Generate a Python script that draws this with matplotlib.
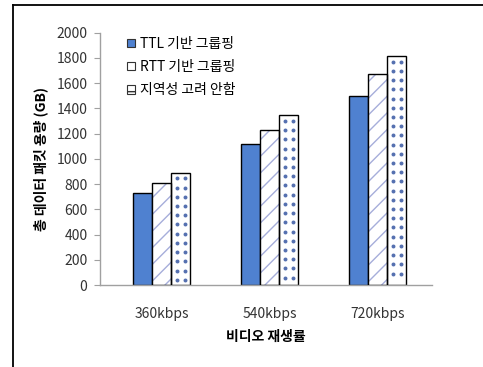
import numpy as np
import matplotlib
matplotlib.use('Agg')
import matplotlib.pyplot as plt
from matplotlib.patches import Patch
from matplotlib.lines import Line2D

plt.rcParams['font.family'] = ['Noto Sans CJK KR', 'DejaVu Sans']

categories = ['360kbps', '540kbps', '720kbps']
series_names = ['TTL 기반 그룹핑', 'RTT 기반 그룹핑', '지역성 고려 안함']
ttl_values = [730, 1120, 1500]
rtt_values = [810, 1230, 1670]
no_locality_values = [890, 1345, 1815]

BLUE = '#4F81D0'
HATCH_LINE = '#A6AEDA'
DOT = '#5570B0'
AXIS_GRAY = '#A0A0A0'

fig = plt.figure(figsize=(4.83, 3.67), dpi=100)
ax = fig.add_axes([0.207, 0.2234, 0.687, 0.6876])

x = np.arange(len(categories))
w = 0.176

# solid bars
ax.bar(x - w, ttl_values, w, color=BLUE, edgecolor='black', linewidth=1.0, zorder=2)

# diagonal hatch: pattern layer first, outline on top
with plt.rc_context({'hatch.linewidth': 1.0}):
    ax.bar(x, rtt_values, w, color='white', edgecolor=HATCH_LINE, hatch='//', linewidth=0, zorder=2)
ax.bar(x, rtt_values, w, fill=False, edgecolor='black', linewidth=1.0, zorder=3)

# dotted bars: white fill with a two-column grid of dots inside each bar
dot_bars = ax.bar(x + w, no_locality_values, w, color='white', edgecolor='black',
                  linewidth=1.0, zorder=2)
for bar in dot_bars:
    left, width, top = bar.get_x(), bar.get_width(), bar.get_height()
    rows = np.arange(top - 45, 20, -73)
    for frac in (0.28, 0.72):
        ax.scatter(np.full(len(rows), left + frac * width), rows, s=8, color=DOT,
                   linewidths=0, zorder=3)

ax.set_xlim(-0.574, 2.5)
ax.set_ylim(0, 2000)
ax.set_yticks(np.arange(0, 2001, 200))
ax.set_xticks(x)
ax.set_xticklabels(categories)

for side in ['top', 'right']:
    ax.spines[side].set_visible(False)
for side in ['left', 'bottom']:
    ax.spines[side].set_color(AXIS_GRAY)
    ax.spines[side].set_linewidth(1.0)

ax.tick_params(axis='y', length=4, color=AXIS_GRAY, pad=5, labelsize=10, labelcolor='#333333')
ax.tick_params(axis='x', length=0, pad=16, labelsize=10, labelcolor='#333333')

ax.set_xlabel('비디오 재생률', fontsize=10, fontweight='bold', labelpad=6)
ax.set_ylabel('총 데이터 패킷 용량 (GB)', fontsize=10, fontweight='bold', labelpad=6)

handles = [
    Patch(facecolor=BLUE, edgecolor='#333333', linewidth=0.8),
    Patch(facecolor='white', edgecolor='#333333', linewidth=0.8),
    Patch(facecolor='white', edgecolor='#333333', hatch='+', linewidth=0.8),
]
ax.legend(handles, series_names, loc='upper left', bbox_to_anchor=(0.065, 1.005),
          frameon=False, fontsize=10, handlelength=0.6, handleheight=0.6,
          handletextpad=0.35, labelspacing=0.65, borderaxespad=0)

# frame lines along the left and top of the figure
fig.add_artist(Line2D([12.5 / 483, 12.5 / 483], [0, 1 - 5 / 367], transform=fig.transFigure,
                      color='black', linewidth=1.3))
fig.add_artist(Line2D([12.5 / 483, 1], [1 - 5 / 367, 1 - 5 / 367], transform=fig.transFigure,
                      color='black', linewidth=1.3))

fig.savefig('out.png', dpi=100)
